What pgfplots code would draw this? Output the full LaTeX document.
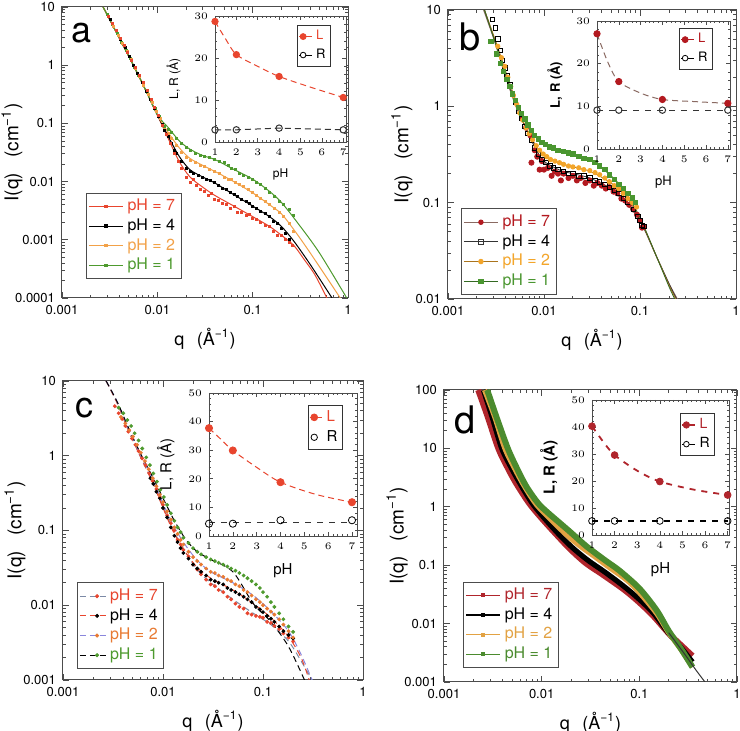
\documentclass[border=0pt]{standalone}
\usepackage{fontspec}
\setmainfont{TeX Gyre Heros}
\usepackage{pgfplots}
\pgfplotsset{compat=1.18}
\definecolor{ared}{HTML}{E8452E}
\definecolor{aorange}{HTML}{F2A148}
\definecolor{agreen}{HTML}{4E9A2E}
\definecolor{bred}{HTML}{B3191F}
\definecolor{borange}{HTML}{F3A52A}
\definecolor{bgreen}{HTML}{4A9630}
\definecolor{bline}{HTML}{8A6A62}
\definecolor{corange}{HTML}{E87A32}
\definecolor{cslate}{HTML}{7C8AA6}
\definecolor{cblue}{HTML}{8A86DC}
\definecolor{dred}{HTML}{B0252C}
\definecolor{dorange}{HTML}{E2A243}
\definecolor{dgreen}{HTML}{4B8B2E}

\pgfplotsset{scale only axis, legend cell align=left,
  axis line style={black!70, line width=0.5pt},
  tick style={black!70, line width=0.4pt}}

\newcommand{\qlab}{q\hspace{0.7em}(Å\textsuperscript{−1})}
\newcommand{\ilab}{I(q)\hspace{0.8em}(cm\textsuperscript{−1})}

\begin{document}
\begin{tikzpicture}
\path[use as bounding box] (0,0) rectangle (370pt,365.5pt);

% ---------------- panel a ----------------
\begin{axis}[at={(31pt,216.5pt)}, anchor=south west, width=143pt, height=145.5pt,
  xmode=log, ymode=log, xmin=0.001, xmax=1, ymin=0.0001, ymax=10,
  xtick={0.001,0.01,0.1,1}, xticklabels={0.001,0.01,0.1,1},
  ytick={0.0001,0.001,0.01,0.1,1,10}, yticklabels={0.0001,0.001,0.01,0.1,1,10},
  minor xtick={0.002,0.003,0.004,0.005,0.006,0.007,0.008,0.009,0.02,0.03,0.04,0.05,0.06,0.07,0.08,0.09,0.2,0.3,0.4,0.5,0.6,0.7,0.8,0.9},
  minor ytick={0.0002,0.0003,0.0004,0.0005,0.0006,0.0007,0.0008,0.0009,0.002,0.003,0.004,0.005,0.006,0.007,0.008,0.009,0.02,0.03,0.04,0.05,0.06,0.07,0.08,0.09,0.2,0.3,0.4,0.5,0.6,0.7,0.8,0.9,2,3,4,5,6,7,8,9},
  major tick length=3pt, minor tick length=1.6pt,
  tick label style={font=\fontsize{6.5}{7}\selectfont},
  xlabel style={font=\fontsize{9}{10}\selectfont},
  ylabel style={font=\fontsize{9.5}{10}\selectfont, at={(axis description cs:-0.175,0.5)}, anchor=center},
  xlabel={\qlab}, ylabel={\ilab},
  legend style={at={(0.084,0.065)}, anchor=south west, draw=black!70,
    font=\fontsize{8}{9}\selectfont, inner sep=1pt, row sep=-1.5pt}]
\addlegendimage{ared, mark=square*, mark size=0.6pt, line width=0.5pt}
\addlegendentry{\textcolor{ared}{pH = 7}}
\addlegendimage{black, mark=square*, mark size=0.6pt, line width=0.5pt}
\addlegendentry{pH = 4}
\addlegendimage{aorange, mark=square*, mark size=0.6pt, line width=0.5pt}
\addlegendentry{\textcolor{aorange}{pH = 2}}
\addlegendimage{agreen, mark=square*, mark size=0.6pt, line width=0.5pt}
\addlegendentry{\textcolor{agreen}{pH = 1}}
% fits
\addplot[ared, line width=0.5pt, smooth, forget plot] coordinates {(0.0027,10) (0.004,2.9) (0.0056,1.0) (0.0075,0.38) (0.01,0.14) (0.013,0.055) (0.017,0.022) (0.022,0.012) (0.03,0.008) (0.04,0.0058) (0.06,0.004) (0.1,0.0025) (0.15,0.0017) (0.2,0.0012) (0.27,0.0008) (0.35,0.00045) (0.45,0.00025) (0.6,0.0001)};
\addplot[black, line width=0.5pt, smooth, forget plot] coordinates {(0.0027,10) (0.004,2.9) (0.0056,1.0) (0.0075,0.38) (0.01,0.14) (0.013,0.06) (0.017,0.027) (0.022,0.016) (0.03,0.012) (0.04,0.0095) (0.06,0.0063) (0.1,0.0038) (0.15,0.0025) (0.2,0.0017) (0.27,0.00095) (0.4,0.00038) (0.68,0.0001)};
\addplot[aorange, line width=0.5pt, smooth, forget plot] coordinates {(0.0027,10) (0.004,2.9) (0.0056,1.0) (0.0075,0.38) (0.01,0.14) (0.013,0.07) (0.017,0.038) (0.022,0.025) (0.03,0.019) (0.04,0.015) (0.06,0.0105) (0.1,0.0064) (0.15,0.004) (0.2,0.0028) (0.27,0.0015) (0.4,0.0006) (0.83,0.0001)};
\addplot[agreen, line width=0.5pt, smooth, forget plot] coordinates {(0.0027,10) (0.004,2.9) (0.0056,1.0) (0.0075,0.38) (0.01,0.14) (0.013,0.085) (0.017,0.05) (0.022,0.036) (0.03,0.028) (0.04,0.024) (0.06,0.017) (0.1,0.011) (0.15,0.0068) (0.2,0.0044) (0.3,0.0019) (0.5,0.0006) (0.97,0.0001)};
% data
\addplot[only marks, mark=square*, mark size=0.5pt, agreen, forget plot] coordinates {(0.0030,7.4) (0.0034,5.0) (0.0038,3.5) (0.0042,2.5) (0.0047,1.8) (0.0052,1.3) (0.0058,0.92) (0.0064,0.66) (0.0071,0.47) (0.0078,0.34) (0.0087,0.25) (0.0096,0.18) (0.0106,0.13) (0.012,0.09) (0.013,0.08) (0.014,0.07) (0.016,0.055) (0.018,0.045) (0.02,0.038) (0.022,0.034) (0.025,0.031) (0.028,0.028) (0.031,0.027) (0.035,0.026) (0.04,0.024) (0.045,0.022) (0.05,0.021) (0.055,0.019) (0.06,0.017) (0.066,0.016) (0.073,0.014) (0.08,0.013) (0.09,0.012) (0.1,0.011) (0.11,0.0097) (0.12,0.0088) (0.135,0.0075) (0.15,0.0066) (0.17,0.0055) (0.19,0.0046) (0.21,0.0041) (0.24,0.0033) (0.27,0.0026)};
\addplot[only marks, mark=square*, mark size=0.5pt, aorange, forget plot] coordinates {(0.0031,7.0) (0.0035,4.7) (0.0039,3.3) (0.0043,2.4) (0.0048,1.7) (0.0053,1.25) (0.0059,0.88) (0.0065,0.63) (0.0072,0.45) (0.0080,0.32) (0.0089,0.23) (0.0098,0.16) (0.0108,0.12) (0.012,0.08) (0.013,0.068) (0.014,0.055) (0.016,0.042) (0.018,0.032) (0.02,0.026) (0.022,0.023) (0.025,0.021) (0.028,0.019) (0.031,0.018) (0.035,0.016) (0.04,0.015) (0.045,0.014) (0.05,0.012) (0.055,0.011) (0.06,0.011) (0.066,0.0098) (0.073,0.009) (0.08,0.0082) (0.09,0.0072) (0.1,0.0064) (0.11,0.0058) (0.12,0.0052) (0.135,0.0045) (0.15,0.004) (0.17,0.0034) (0.19,0.003) (0.21,0.0025) (0.24,0.0019) (0.27,0.0014)};
\addplot[only marks, mark=square*, mark size=0.5pt, black, forget plot] coordinates {(0.0032,6.2) (0.0037,3.9) (0.0041,2.8) (0.0046,2.0) (0.0051,1.4) (0.0056,1.0) (0.0062,0.72) (0.0069,0.5) (0.0076,0.36) (0.0084,0.26) (0.0093,0.18) (0.0103,0.13) (0.0113,0.095) (0.012,0.075) (0.013,0.06) (0.014,0.045) (0.015,0.035) (0.016,0.03) (0.018,0.022) (0.02,0.017) (0.022,0.015) (0.024,0.014) (0.027,0.013) (0.03,0.012) (0.033,0.011) (0.036,0.0105) (0.04,0.0095) (0.044,0.0085) (0.048,0.0075) (0.053,0.0072) (0.058,0.0065) (0.064,0.006) (0.07,0.0055) (0.077,0.005) (0.085,0.0046) (0.093,0.0042) (0.1,0.0038) (0.11,0.0035) (0.12,0.0031) (0.135,0.0028) (0.15,0.0025) (0.165,0.0021) (0.18,0.0019) (0.2,0.0016) (0.22,0.0013) (0.24,0.001) (0.26,0.0008)};
\addplot[only marks, mark=square*, mark size=0.5pt, ared, forget plot] coordinates {(0.0031,7.0) (0.0034,5.2) (0.0037,4.0) (0.0041,2.9) (0.0045,2.2) (0.0049,1.65) (0.0054,1.2) (0.0059,0.9) (0.0065,0.66) (0.0071,0.5) (0.0078,0.37) (0.0086,0.26) (0.0094,0.19) (0.0103,0.135) (0.0113,0.092) (0.0124,0.065) (0.0136,0.045) (0.015,0.03) (0.0165,0.022) (0.018,0.017) (0.02,0.012) (0.022,0.0095) (0.024,0.011) (0.026,0.0085) (0.028,0.0072) (0.031,0.0068) (0.034,0.0058) (0.037,0.0062) (0.04,0.005) (0.044,0.0048) (0.048,0.0042) (0.053,0.004) (0.058,0.0035) (0.064,0.0037) (0.07,0.003) (0.077,0.0029) (0.085,0.0026) (0.093,0.0027) (0.1,0.0023) (0.11,0.0022) (0.12,0.002) (0.135,0.0018) (0.15,0.0017) (0.165,0.0014) (0.18,0.0012) (0.2,0.0012) (0.22,0.001) (0.24,0.0009) (0.26,0.0008)};
\node[font=\fontsize{18}{18}\selectfont] at (rel axis cs:0.069,0.91) {a};
\end{axis}
\begin{axis}[at={(107.5pt,294.5pt)}, anchor=south west, width=65.5pt, height=63pt,
  xmin=1, xmax=7.13, ymin=0, ymax=30, xtick={1,2,3,4,5,6,7}, ytick={0,10,20,30},
  minor x tick num=4, minor y tick num=4, clip=false,
  axis background/.style={fill=white},
  major tick length=2pt, minor tick length=1pt,
  axis line style={black!70, line width=0.4pt}, tick style={black!70, line width=0.3pt},
  tick label style={font=\fontsize{4.5}{5}\selectfont},
  label style={font=\fontsize{6}{6.5}\selectfont},
  xlabel=pH, ylabel={L, R (Å)},
  legend style={at={(0.885,0.929)}, anchor=north east, draw=black!80,
    font=\fontsize{6.5}{7}\selectfont, inner sep=0.5pt, row sep=-1pt}]
\addlegendimage{legend image code/.code={\draw[ared, line width=0.5pt] (0cm,0cm) -- (0.22cm,0cm); \fill[ared] (0.07cm,0cm) circle (1.5pt);}}
\addlegendentry{\textcolor{ared}{L}}
\addlegendimage{legend image code/.code={\draw[black, line width=0.5pt] (0cm,0cm) -- (0.22cm,0cm); \draw[black, fill=white, line width=0.4pt] (0.07cm,0cm) circle (1.4pt);}}
\addlegendentry{R}
\addplot[ared, densely dashed, line width=0.5pt, smooth, forget plot] coordinates {(1,28.7) (1.5,24.5) (2,20.8) (3,18) (4,15.6) (5.5,13) (7,10.6)};
\addplot[ared, only marks, mark=*, mark size=1.6pt, forget plot] coordinates {(1,28.7) (2,20.8) (4,15.6) (7,10.6)};
\addplot[black!80, densely dashed, line width=0.5pt, mark=o, mark size=1.6pt, mark options={solid, fill=white}, forget plot] coordinates {(1,2.9) (2,2.9) (4,3.3) (7,2.9)};
\end{axis}

% ---------------- panel b ----------------
\begin{axis}[at={(224pt,216pt)}, anchor=south west, width=144pt, height=144.5pt,
  xmode=log, ymode=log, xmin=0.001, xmax=1, ymin=0.01, ymax=10,
  xtick={0.001,0.01,0.1,1}, xticklabels={0.001,0.01,0.1,1},
  ytick={0.01,0.1,1,10}, yticklabels={0.01,0.1,1,10},
  minor xtick={0.002,0.003,0.004,0.005,0.006,0.007,0.008,0.009,0.02,0.03,0.04,0.05,0.06,0.07,0.08,0.09,0.2,0.3,0.4,0.5,0.6,0.7,0.8,0.9},
  minor ytick={0.02,0.03,0.04,0.05,0.06,0.07,0.08,0.09,0.2,0.3,0.4,0.5,0.6,0.7,0.8,0.9,2,3,4,5,6,7,8,9},
  major tick length=3pt, minor tick length=1.6pt,
  tick label style={font=\fontsize{6.5}{7}\selectfont},
  xlabel style={font=\fontsize{9}{10}\selectfont},
  ylabel style={font=\fontsize{9.5}{10}\selectfont, at={(axis description cs:-0.16,0.5)}, anchor=center},
  xlabel={\qlab}, ylabel={\ilab},
  legend style={at={(0.045,0.014)}, anchor=south west, draw=black!70,
    font=\fontsize{8}{9}\selectfont, inner sep=1pt, row sep=-1.5pt}]
\addlegendimage{bline, mark=*, mark size=1.1pt, mark options={bred}, line width=0.5pt}
\addlegendentry{\textcolor{bred}{pH = 7}}
\addlegendimage{black!80, mark=square, mark size=1.1pt, line width=0.5pt}
\addlegendentry{pH = 4}
\addlegendimage{borange!70!black, mark=*, mark size=1.1pt, mark options={borange}, line width=0.5pt}
\addlegendentry{\textcolor{borange}{pH = 2}}
\addlegendimage{bgreen!70!black, mark=square*, mark size=1.1pt, mark options={bgreen}, line width=0.5pt}
\addlegendentry{\textcolor{bgreen}{pH = 1}}
\addplot[only marks, mark=*, mark size=1.3pt, bred, forget plot] coordinates {(0.006,0.75) (0.0065,0.6) (0.0072,0.5) (0.0074,0.26) (0.008,0.35) (0.0085,0.3) (0.009,0.22) (0.0095,0.27) (0.01,0.22) (0.011,0.23) (0.012,0.19) (0.013,0.21) (0.014,0.2) (0.015,0.17) (0.016,0.2) (0.018,0.18) (0.02,0.19) (0.022,0.17) (0.024,0.18) (0.027,0.16) (0.03,0.17) (0.033,0.15) (0.036,0.16) (0.04,0.15) (0.044,0.14) (0.048,0.145) (0.053,0.13) (0.058,0.125) (0.064,0.11) (0.07,0.105) (0.077,0.095) (0.085,0.085) (0.093,0.075) (0.1,0.065) (0.105,0.055) (0.11,0.056)};
\addplot[only marks, mark=square, mark size=1.1pt, black, forget plot] coordinates {(0.0029,8) (0.0031,6.5) (0.0033,5) (0.0035,3.8) (0.0037,3.0) (0.0039,2.5) (0.0041,2.1) (0.0044,1.7) (0.0047,1.35) (0.005,1.1) (0.0054,0.9) (0.0058,0.75) (0.0063,0.62) (0.0068,0.52) (0.0074,0.44) (0.008,0.37) (0.0087,0.32) (0.0095,0.28) (0.0105,0.26) (0.0115,0.24) (0.0125,0.23) (0.014,0.22) (0.016,0.21) (0.018,0.2) (0.02,0.2) (0.023,0.19) (0.026,0.19) (0.03,0.18) (0.034,0.17) (0.038,0.165) (0.043,0.155) (0.048,0.145) (0.054,0.135) (0.06,0.125) (0.067,0.11) (0.075,0.1) (0.085,0.085) (0.095,0.072) (0.1,0.065) (0.105,0.058) (0.11,0.057)};
\addplot[only marks, mark=*, mark size=1.1pt, borange, forget plot] coordinates {(0.0033,4.2) (0.0036,3.2) (0.0039,2.6) (0.0042,2.0) (0.0045,1.6) (0.0048,1.3) (0.0052,1.05) (0.0056,0.85) (0.006,0.72) (0.0065,0.6) (0.007,0.52) (0.0076,0.45) (0.0083,0.39) (0.009,0.35) (0.0098,0.32) (0.0107,0.3) (0.0117,0.28) (0.013,0.27) (0.0145,0.26) (0.016,0.25) (0.018,0.24) (0.02,0.235) (0.023,0.23) (0.026,0.22) (0.03,0.215) (0.034,0.205) (0.038,0.195) (0.043,0.18) (0.048,0.165) (0.054,0.15) (0.06,0.14) (0.067,0.125) (0.075,0.11) (0.083,0.1) (0.092,0.09)};
\addplot[only marks, mark=square*, mark size=1.1pt, bgreen, forget plot] coordinates {(0.0028,4.7) (0.0032,3.5) (0.0035,2.8) (0.0038,2.3) (0.0041,1.9) (0.0044,1.6) (0.0047,1.35) (0.005,1.15) (0.0054,0.98) (0.0058,0.85) (0.0063,0.74) (0.0068,0.64) (0.0074,0.56) (0.008,0.5) (0.0087,0.46) (0.0095,0.42) (0.0104,0.4) (0.0114,0.38) (0.0125,0.37) (0.014,0.35) (0.016,0.34) (0.018,0.33) (0.02,0.32) (0.023,0.3) (0.026,0.29) (0.03,0.28) (0.034,0.26) (0.038,0.24) (0.043,0.22) (0.048,0.195) (0.054,0.175) (0.06,0.155) (0.067,0.14) (0.075,0.125) (0.083,0.112) (0.09,0.1)};
\addplot[bline, line width=0.5pt, smooth, forget plot] coordinates {(0.00235,10) (0.003,5) (0.004,2.0) (0.005,1.05) (0.006,0.7) (0.008,0.38) (0.01,0.26) (0.015,0.2) (0.02,0.185) (0.03,0.165) (0.05,0.135) (0.07,0.1) (0.1,0.065) (0.15,0.027) (0.2,0.0145) (0.245,0.01)};
\addplot[black!80, line width=0.4pt, smooth, forget plot] coordinates {(0.0024,10) (0.003,5.2) (0.004,2.1) (0.005,1.08) (0.006,0.7) (0.008,0.38) (0.01,0.27) (0.015,0.215) (0.02,0.2) (0.03,0.18) (0.05,0.14) (0.07,0.105) (0.1,0.066) (0.15,0.027) (0.2,0.0145) (0.24,0.01)};
\addplot[borange!70!black, line width=0.4pt, smooth, forget plot] coordinates {(0.0024,10) (0.0032,4.5) (0.004,2.3) (0.005,1.2) (0.006,0.72) (0.008,0.41) (0.01,0.31) (0.015,0.255) (0.02,0.235) (0.03,0.212) (0.05,0.16) (0.07,0.12) (0.1,0.068) (0.15,0.027) (0.2,0.014) (0.235,0.01)};
\addplot[bgreen!70!black, line width=0.4pt, smooth, forget plot] coordinates {(0.0024,10) (0.0032,4.2) (0.004,2.1) (0.005,1.15) (0.006,0.8) (0.008,0.5) (0.01,0.41) (0.015,0.35) (0.02,0.32) (0.03,0.28) (0.05,0.19) (0.07,0.13) (0.1,0.07) (0.15,0.027) (0.2,0.0135) (0.23,0.01)};
\node[font=\fontsize{19}{19}\selectfont] at (rel axis cs:0.076,0.908) {b};
\end{axis}
\begin{axis}[at={(298.5pt,291pt)}, anchor=south west, width=66.5pt, height=64pt,
  xmin=1, xmax=7.1, ymin=0, ymax=30, xtick={1,2,3,4,5,6,7}, ytick={0,10,20,30},
  minor x tick num=4, minor y tick num=4, clip=false,
  axis background/.style={fill=white},
  major tick length=2pt, minor tick length=1pt,
  axis line style={black!70, line width=0.4pt}, tick style={black!70, line width=0.3pt},
  tick label style={font=\fontsize{4.5}{5}\selectfont},
  label style={font=\fontsize{6.5}{7}\selectfont},
  xlabel=pH, ylabel={\textbf{L, R (Å)}},
  legend style={at={(0.872,0.945)}, anchor=north east, draw=black!80,
    font=\fontsize{6.5}{7}\selectfont, inner sep=0.5pt, row sep=-1pt}]
\addlegendimage{legend image code/.code={\draw[bred, line width=0.5pt] (0cm,0cm) -- (0.22cm,0cm); \fill[bred] (0.07cm,0cm) circle (1.5pt);}}
\addlegendentry{\textcolor{bred}{L}}
\addlegendimage{legend image code/.code={\draw[black, line width=0.5pt] (0cm,0cm) -- (0.22cm,0cm); \draw[black, fill=white, line width=0.4pt] (0.07cm,0cm) circle (1.4pt);}}
\addlegendentry{R}
\addplot[bline, densely dashed, line width=0.5pt, smooth, forget plot] coordinates {(1,27) (1.5,20.3) (2,15.8) (3,13.1) (4,11.6) (5.5,11.1) (7,10.7)};
\addplot[bred, only marks, mark=*, mark size=1.6pt, forget plot] coordinates {(1,27) (2,15.8) (4,11.6) (7,10.7)};
\addplot[black!80, dashed, line width=0.5pt, mark=o, mark size=1.6pt, mark options={solid, fill=white}, forget plot] coordinates {(1,9.1) (2,9.1) (4,9.1) (7,9.1)};
\end{axis}

% ---------------- panel c ----------------
\begin{axis}[at={(31.5pt,25.5pt)}, anchor=south west, width=150pt, height=149.5pt,
  xmode=log, ymode=log, xmin=0.001, xmax=1, ymin=0.001, ymax=10,
  xtick={0.001,0.01,0.1,1}, xticklabels={0.001,0.01,0.1,1},
  ytick={0.001,0.01,0.1,1,10}, yticklabels={0.001,0.01,0.1,1,10},
  minor xtick={0.002,0.003,0.004,0.005,0.006,0.007,0.008,0.009,0.02,0.03,0.04,0.05,0.06,0.07,0.08,0.09,0.2,0.3,0.4,0.5,0.6,0.7,0.8,0.9},
  minor ytick={0.002,0.003,0.004,0.005,0.006,0.007,0.008,0.009,0.02,0.03,0.04,0.05,0.06,0.07,0.08,0.09,0.2,0.3,0.4,0.5,0.6,0.7,0.8,0.9,2,3,4,5,6,7,8,9},
  major tick length=3pt, minor tick length=1.6pt,
  tick label style={font=\fontsize{6.5}{7}\selectfont},
  xlabel style={font=\fontsize{9}{10}\selectfont},
  ylabel style={font=\fontsize{9.5}{10}\selectfont, at={(axis description cs:-0.16,0.5)}, anchor=center},
  xlabel={\qlab}, ylabel={\ilab},
  legend style={at={(0.047,0.037)}, anchor=south west, draw=black!70,
    font=\fontsize{8}{9}\selectfont, inner sep=1pt, row sep=-1.5pt}]
\addlegendimage{legend image code/.code={\draw[cslate, densely dashed, line width=0.5pt] (0cm,0cm) -- (0.45cm,0cm); \fill[ared] (0.3cm,0cm) circle (0.8pt);}}
\addlegendentry{\textcolor{ared}{pH = 7}}
\addlegendimage{legend image code/.code={\draw[ared, densely dashed, line width=0.5pt] (0cm,0cm) -- (0.45cm,0cm); \fill[black] (0.3cm,0cm) circle (0.8pt);}}
\addlegendentry{pH = 4}
\addlegendimage{legend image code/.code={\draw[cblue, densely dashed, line width=0.5pt] (0cm,0cm) -- (0.45cm,0cm); \fill[corange] (0.3cm,0cm) circle (0.8pt);}}
\addlegendentry{\textcolor{corange}{pH = 2}}
\addlegendimage{legend image code/.code={\draw[black, densely dashed, line width=0.5pt] (0cm,0cm) -- (0.45cm,0cm); \fill[agreen] (0.3cm,0cm) circle (0.8pt);}}
\addlegendentry{\textcolor{agreen}{pH = 1}}
\addplot[only marks, mark=*, mark size=0.75pt, ared, forget plot] coordinates {(0.0033,4.6) (0.0036,3.7) (0.0039,3.1) (0.0042,2.5) (0.0045,2.1) (0.0049,1.7) (0.0053,1.4) (0.0057,1.15) (0.0062,0.92) (0.0067,0.75) (0.0073,0.58) (0.0079,0.46) (0.0086,0.36) (0.0093,0.28) (0.01,0.22) (0.011,0.16) (0.012,0.125) (0.013,0.1) (0.014,0.075) (0.015,0.065) (0.016,0.055) (0.018,0.045) (0.02,0.035) (0.022,0.03) (0.024,0.026) (0.027,0.022) (0.03,0.019) (0.033,0.018) (0.036,0.016) (0.04,0.015) (0.044,0.013) (0.048,0.012) (0.053,0.0105) (0.058,0.0095) (0.064,0.009) (0.07,0.0078) (0.077,0.0075) (0.085,0.0072) (0.093,0.007) (0.1,0.0068) (0.11,0.006) (0.12,0.0058) (0.13,0.0053) (0.145,0.0048) (0.16,0.0042) (0.18,0.0037) (0.2,0.0033)};
\addplot[only marks, mark=*, mark size=0.75pt, black, forget plot] coordinates {(0.0075,0.5) (0.008,0.42) (0.0086,0.33) (0.0093,0.27) (0.01,0.2) (0.011,0.15) (0.012,0.11) (0.013,0.085) (0.014,0.07) (0.015,0.058) (0.016,0.05) (0.018,0.042) (0.02,0.035) (0.022,0.031) (0.024,0.028) (0.027,0.025) (0.03,0.022) (0.033,0.021) (0.036,0.02) (0.04,0.019) (0.044,0.017) (0.048,0.016) (0.053,0.015) (0.058,0.014) (0.064,0.013) (0.07,0.012) (0.077,0.011) (0.085,0.0095) (0.093,0.0088) (0.1,0.0081) (0.11,0.0072) (0.12,0.0066) (0.13,0.006) (0.145,0.0052) (0.16,0.0045) (0.18,0.004) (0.2,0.0036)};
\addplot[only marks, mark=*, mark size=0.75pt, corange, forget plot] coordinates {(0.0038,3.3) (0.0042,2.7) (0.0046,2.2) (0.005,1.8) (0.0055,1.4) (0.006,1.1) (0.0066,0.85) (0.0072,0.66) (0.0079,0.5) (0.0086,0.39) (0.0093,0.3) (0.01,0.24) (0.011,0.18) (0.012,0.14) (0.013,0.11) (0.014,0.09) (0.015,0.075) (0.016,0.065) (0.018,0.052) (0.02,0.044) (0.022,0.039) (0.024,0.035) (0.027,0.031) (0.03,0.028) (0.033,0.027) (0.036,0.025) (0.04,0.024) (0.044,0.022) (0.048,0.021) (0.053,0.019) (0.058,0.018) (0.064,0.016) (0.07,0.015) (0.077,0.0135) (0.085,0.012) (0.093,0.011) (0.1,0.01) (0.11,0.009) (0.12,0.0082) (0.13,0.0075) (0.145,0.0065) (0.16,0.0055) (0.18,0.0045) (0.2,0.0037)};
\addplot[only marks, mark=*, mark size=0.75pt, agreen, forget plot] coordinates {(0.0036,4.4) (0.004,3.7) (0.0044,3.0) (0.0048,2.5) (0.0052,2.0) (0.0057,1.6) (0.0062,1.25) (0.0068,0.95) (0.0074,0.75) (0.008,0.58) (0.0087,0.45) (0.0094,0.35) (0.0102,0.28) (0.011,0.22) (0.012,0.17) (0.013,0.135) (0.014,0.11) (0.015,0.095) (0.016,0.08) (0.018,0.068) (0.02,0.058) (0.022,0.052) (0.024,0.048) (0.027,0.044) (0.03,0.041) (0.033,0.039) (0.036,0.037) (0.04,0.035) (0.044,0.033) (0.048,0.031) (0.053,0.029) (0.058,0.027) (0.064,0.025) (0.07,0.023) (0.077,0.021) (0.085,0.019) (0.093,0.017) (0.1,0.015) (0.11,0.013) (0.12,0.011) (0.13,0.0095) (0.145,0.0078) (0.16,0.0065) (0.18,0.0052) (0.2,0.0044)};
\addplot[cslate, densely dashed, line width=0.5pt, smooth, forget plot] coordinates {(0.0027,10) (0.0035,5) (0.0045,2.2) (0.006,0.95) (0.008,0.42) (0.01,0.21) (0.013,0.095) (0.017,0.05) (0.022,0.03) (0.03,0.02) (0.05,0.012) (0.08,0.0078) (0.12,0.0055) (0.18,0.0033) (0.24,0.0018) (0.31,0.001)};
\addplot[ared, densely dashed, line width=0.5pt, smooth, forget plot] coordinates {(0.0027,10) (0.0035,5) (0.0045,2.2) (0.006,0.95) (0.008,0.42) (0.01,0.2) (0.013,0.09) (0.017,0.05) (0.022,0.032) (0.03,0.023) (0.05,0.016) (0.08,0.0105) (0.12,0.0068) (0.18,0.0038) (0.24,0.002) (0.29,0.001)};
\addplot[cblue, densely dashed, line width=0.5pt, smooth, forget plot] coordinates {(0.0027,10) (0.0035,5.2) (0.0045,2.3) (0.006,1.0) (0.008,0.45) (0.01,0.23) (0.013,0.11) (0.017,0.062) (0.022,0.04) (0.03,0.028) (0.05,0.02) (0.08,0.0135) (0.12,0.0083) (0.18,0.0045) (0.24,0.0022) (0.31,0.001)};
\addplot[black, densely dashed, line width=0.5pt, smooth, forget plot] coordinates {(0.0027,10) (0.0035,5.2) (0.0045,2.4) (0.006,1.05) (0.008,0.5) (0.01,0.27) (0.013,0.135) (0.017,0.075) (0.022,0.052) (0.03,0.041) (0.05,0.028) (0.08,0.0105) (0.12,0.006) (0.18,0.0028) (0.26,0.001)};
\node[font=\fontsize{18}{18}\selectfont] at (rel axis cs:0.073,0.91) {c};
\end{axis}
\begin{axis}[at={(104.5pt,97.5pt)}, anchor=south west, width=74pt, height=71.5pt,
  xmin=1, xmax=7.21, ymin=0, ymax=50, xtick={1,2,3,4,5,6,7}, ytick={0,10,20,30,40,50},
  minor x tick num=4, minor y tick num=4, clip=false,
  axis background/.style={fill=white},
  major tick length=2pt, minor tick length=1pt,
  axis line style={black!70, line width=0.4pt}, tick style={black!70, line width=0.3pt},
  tick label style={font=\fontsize{5}{5.5}\selectfont},
  label style={font=\fontsize{7.5}{8}\selectfont},
  xlabel=pH, ylabel={L, R (Å)},
  legend style={at={(0.905,0.916)}, anchor=north east, draw=black!80,
    font=\fontsize{7.5}{8}\selectfont, inner sep=0.5pt, row sep=-1pt}]
\addlegendimage{legend image code/.code={\draw[ared, line width=0.5pt] (0cm,0cm) -- (0.22cm,0cm); \fill[ared] (0.08cm,0cm) circle (1.7pt);}}
\addlegendentry{\textcolor{ared}{L}}
\addlegendimage{legend image code/.code={\draw[black, line width=0.4pt] (0.08cm,0cm) circle (1.6pt);}}
\addlegendentry{R}
\addplot[ared, densely dashed, line width=0.5pt, smooth, forget plot] coordinates {(1,37.7) (1.5,33.8) (2,29.9) (3,24) (4,18.8) (5.5,14.5) (7,11.8)};
\addplot[ared, only marks, mark=*, mark size=1.8pt, forget plot] coordinates {(1,37.7) (2,29.9) (4,18.8) (7,11.8)};
\addplot[black!80, dashed, line width=0.5pt, forget plot] coordinates {(1,4.6) (7,4.6)};
\addplot[black, only marks, mark=o, mark size=1.8pt, forget plot] coordinates {(1,4.3) (2,4.3) (4,5.5) (7,5.5)};
\end{axis}

% ---------------- panel d ----------------
\begin{axis}[at={(222pt,24.5pt)}, anchor=south west, width=146.5pt, height=146pt,
  xmode=log, ymode=log, xmin=0.001, xmax=1, ymin=0.001, ymax=100,
  xtick={0.001,0.01,0.1,1}, xticklabels={0.001,0.01,0.1,1},
  ytick={0.001,0.01,0.1,1,10,100}, yticklabels={0.001,0.01,0.1,1,10,100},
  minor xtick={0.002,0.003,0.004,0.005,0.006,0.007,0.008,0.009,0.02,0.03,0.04,0.05,0.06,0.07,0.08,0.09,0.2,0.3,0.4,0.5,0.6,0.7,0.8,0.9},
  minor ytick={0.002,0.003,0.004,0.005,0.006,0.007,0.008,0.009,0.02,0.03,0.04,0.05,0.06,0.07,0.08,0.09,0.2,0.3,0.4,0.5,0.6,0.7,0.8,0.9,2,3,4,5,6,7,8,9,20,30,40,50,60,70,80,90},
  major tick length=3pt, minor tick length=1.6pt,
  tick label style={font=\fontsize{6.5}{7}\selectfont},
  xlabel style={font=\fontsize{9}{10}\selectfont},
  ylabel style={font=\fontsize{9.5}{10}\selectfont, at={(axis description cs:-0.16,0.5)}, anchor=center},
  xlabel={\qlab}, ylabel={\ilab},
  legend style={at={(0.065,0.048)}, anchor=south west, draw=black!70,
    font=\fontsize{8}{9}\selectfont, inner sep=1pt, row sep=-1.5pt}]
\addlegendimage{dred, mark=square*, mark size=0.7pt, line width=0.6pt}
\addlegendentry{\textcolor{dred}{pH = 7}}
\addlegendimage{black, mark=square*, mark size=0.7pt, line width=0.6pt}
\addlegendentry{pH = 4}
\addlegendimage{dorange, mark=square*, mark size=0.7pt, line width=0.6pt}
\addlegendentry{\textcolor{dorange}{pH = 2}}
\addlegendimage{dgreen, mark=square*, mark size=0.7pt, line width=0.6pt}
\addlegendentry{\textcolor{dgreen}{pH = 1}}
\addplot[dred, line width=3pt, smooth, forget plot] coordinates {(0.00224,100) (0.0028,35) (0.0036,10) (0.0045,4.6) (0.0055,2.5) (0.0075,1.13) (0.0103,0.6) (0.0145,0.32) (0.0195,0.19) (0.028,0.11) (0.0427,0.068) (0.07,0.038) (0.1,0.023) (0.139,0.0135) (0.2,0.0068) (0.27,0.0042) (0.35,0.0028)};
\addplot[black, line width=2.6pt, smooth, forget plot] coordinates {(0.00253,100) (0.0031,35) (0.0039,10) (0.0049,4.6) (0.006,2.5) (0.008,1.15) (0.011,0.6) (0.0155,0.32) (0.021,0.195) (0.03,0.12) (0.045,0.075) (0.07,0.043) (0.1,0.026) (0.14,0.015) (0.2,0.0068) (0.27,0.0038) (0.35,0.0022)};
\addplot[dorange, line width=2.6pt, smooth, forget plot] coordinates {(0.0026,100) (0.0033,35) (0.0042,10) (0.0053,4.5) (0.0066,2.3) (0.0088,1.1) (0.0125,0.6) (0.018,0.33) (0.025,0.21) (0.035,0.14) (0.05,0.09) (0.075,0.055) (0.1,0.034) (0.15,0.015) (0.2,0.007) (0.27,0.0035) (0.35,0.0018)};
\addplot[dgreen, line width=3pt, smooth, forget plot] coordinates {(0.00277,100) (0.0035,32) (0.0045,10) (0.0056,4.5) (0.007,2.2) (0.0092,1.15) (0.0115,0.8) (0.0142,0.59) (0.02,0.36) (0.0288,0.21) (0.045,0.12) (0.063,0.08) (0.1,0.04) (0.15,0.017) (0.2,0.0075) (0.27,0.0036) (0.35,0.0018)};
\addplot[black!80, line width=0.5pt, smooth, forget plot] coordinates {(0.2,0.007) (0.3,0.0028) (0.38,0.0016) (0.47,0.001)};
\node[font=\fontsize{19}{19}\selectfont] at (rel axis cs:0.072,0.897) {d};
\end{axis}
\begin{axis}[at={(296pt,98pt)}, anchor=south west, width=68.5pt, height=67.5pt,
  xmin=1, xmax=7.06, ymin=0, ymax=50, xtick={1,2,3,4,5,6,7}, ytick={0,10,20,30,40,50},
  minor x tick num=4, minor y tick num=4, clip=false,
  axis background/.style={fill=white},
  major tick length=2pt, minor tick length=1pt,
  axis line style={black!70, line width=0.4pt}, tick style={black!70, line width=0.3pt},
  tick label style={font=\fontsize{5}{5.5}\selectfont},
  label style={font=\fontsize{7.5}{8}\selectfont},
  xlabel=pH, ylabel={\textbf{L, R (Å)}},
  legend style={at={(0.898,0.904)}, anchor=north east, draw=black!80,
    font=\fontsize{7}{7.5}\selectfont, inner sep=0.5pt, row sep=-1pt}]
\addlegendimage{legend image code/.code={\draw[dred, line width=0.6pt] (0cm,0cm) -- (0.22cm,0cm); \fill[dred] (0.07cm,0cm) circle (1.6pt);}}
\addlegendentry{\textcolor{dred}{L}}
\addlegendimage{legend image code/.code={\draw[black, line width=0.6pt] (0cm,0cm) -- (0.22cm,0cm); \draw[black, fill=white, line width=0.4pt] (0.07cm,0cm) circle (1.4pt);}}
\addlegendentry{R}
\addplot[dred, dashed, line width=0.9pt, smooth, forget plot] coordinates {(1,40.3) (1.5,34.5) (2,29.6) (3,23.8) (4,19.8) (5.5,16.8) (7,14.8)};
\addplot[dred, only marks, mark=*, mark size=1.7pt, forget plot] coordinates {(1,40.3) (2,29.6) (4,19.8) (7,14.8)};
\addplot[black, dashed, line width=0.9pt, mark=o, mark size=1.7pt, mark options={solid, fill=white, line width=0.4pt}, forget plot] coordinates {(1,5.2) (2,5.2) (4,5.2) (7,5.2)};
\end{axis}
\end{tikzpicture}
\end{document}
